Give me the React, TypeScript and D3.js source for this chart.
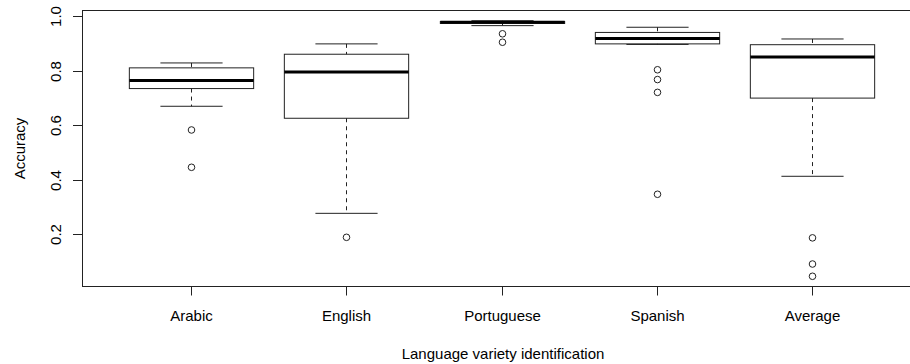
import React from "react";
import * as d3 from "d3";

const categories = ["Arabic", "English", "Portuguese", "Spanish", "Average"];
const whiskerLow = [0.670, 0.277, 0.966, 0.897, 0.413];
const q1 = [0.735, 0.626, 0.974, 0.899, 0.700];
const medians = [0.765, 0.796, 0.978, 0.919, 0.851];
const q3 = [0.811, 0.861, 0.981, 0.941, 0.896];
const whiskerHigh = [0.829, 0.899, 0.984, 0.960, 0.917];
const outliers: number[][] = [
  [0.583, 0.446],
  [0.189],
  [0.936, 0.905],
  [0.804, 0.768, 0.721, 0.347],
  [0.187, 0.091, 0.046],
];
const yTicks = [0.2, 0.4, 0.6, 0.8, 1.0];
const xTitle = "Language variety identification";
const yTitle = "Accuracy";

const W = 910;
const H = 364;
const left = 82;
const top = 10.5;
const bottom = 286.5;
const step = 155.4;

export default function App() {
  const allVals = [...whiskerLow, ...whiskerHigh, ...outliers.flat()];
  const lo = d3.min(allVals) as number;
  const hi = d3.max(allVals) as number;
  const ext = (hi - lo) * 0.04;
  const y = d3.scaleLinear().domain([lo - ext, hi + ext]).range([bottom, top]);
  const n = categories.length;
  const x = d3
    .scaleLinear()
    .domain([0.3, n + 0.7])
    .range([left, left + step * (n + 0.4)]);
  const boxW = step * 0.8;
  const capW = boxW * 0.5;
  const font = "'Liberation Sans', Arial, Helvetica, sans-serif";
  const stroke = "#222";

  return (
    <svg
      width={W}
      height={H}
      style={{ position: "absolute", left: 0, top: 0, background: "#fff" }}
      fontFamily={font}
    >
      <rect x={0} y={0} width={W} height={H} fill="#fff" />
      {/* plot frame */}
      <rect
        x={left + 0.5}
        y={top}
        width={x(n + 0.7) - left}
        height={bottom - top}
        fill="none"
        stroke={stroke}
        strokeWidth={1}
      />
      {categories.map((c, i) => {
        const cx = Math.round(x(i + 1)) + 0.5;
        return (
          <g key={c}>
            {/* whiskers */}
            <line x1={cx} x2={cx} y1={y(whiskerHigh[i])} y2={y(q3[i])} stroke={stroke} strokeDasharray="4,4" />
            <line x1={cx} x2={cx} y1={y(q1[i])} y2={y(whiskerLow[i])} stroke={stroke} strokeDasharray="4,4" />
            <line x1={cx - capW / 2} x2={cx + capW / 2} y1={y(whiskerHigh[i])} y2={y(whiskerHigh[i])} stroke={stroke} />
            <line x1={cx - capW / 2} x2={cx + capW / 2} y1={y(whiskerLow[i])} y2={y(whiskerLow[i])} stroke={stroke} />
            {/* box */}
            <rect
              x={cx - boxW / 2}
              y={y(q3[i])}
              width={boxW}
              height={y(q1[i]) - y(q3[i])}
              fill="none"
              stroke={stroke}
            />
            <line
              x1={cx - boxW / 2}
              x2={cx + boxW / 2}
              y1={y(medians[i])}
              y2={y(medians[i])}
              stroke="#000"
              strokeWidth={3}
            />
            {outliers[i].map((v, j) => (
              <circle key={j} cx={cx} cy={y(v)} r={3.3} fill="none" stroke={stroke} />
            ))}
            {/* x tick */}
            <line x1={cx} x2={cx} y1={bottom} y2={bottom + 9} stroke={stroke} />
            <text x={cx} y={315} textAnchor="middle" dominantBaseline="central" fontSize={15} fill="#000">
              {c}
            </text>
          </g>
        );
      })}
      {yTicks.map((t) => {
        const ty = Math.round(y(t)) + 0.5;
        return (
          <g key={t}>
            <line x1={left - 9} x2={left} y1={ty} y2={ty} stroke={stroke} />
            <text
              transform={`translate(55,${ty}) rotate(-90)`}
              textAnchor="middle"
              dominantBaseline="central"
              fontSize={15}
              fill="#000"
            >
              {t.toFixed(1)}
            </text>
          </g>
        );
      })}
      <text
        transform={`translate(19,${(top + bottom) / 2}) rotate(-90)`}
        textAnchor="middle"
        dominantBaseline="central"
        fontSize={15}
        fill="#000"
      >
        {yTitle}
      </text>
      <text x={503} y={353} textAnchor="middle" dominantBaseline="central" fontSize={15} fill="#000">
        {xTitle}
      </text>
    </svg>
  );
}
